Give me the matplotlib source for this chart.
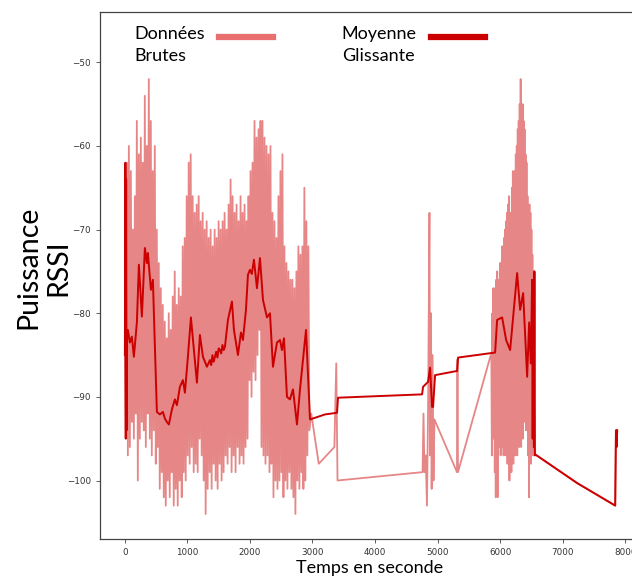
import numpy as np
import matplotlib.pyplot as plt

# --- données ---
# bloc dense 1 : paires (haut, bas) lues sur l'enveloppe
raw1 = [-85, -94, -62, -97, -60, -96, -63, -93, -70, -95, -66, -92, -57, -100, -61, -95,
        -59, -93, -62, -94, -54, -96, -60, -92, -52, -95, -57, -97, -63, -94, -60, -98,
        -70, -96, -74, -101, -77, -99, -79, -102, -81, -103, -83, -100, -80, -102, -82, -99,
        -78, -103, -75, -101, -79, -103, -77, -100, -78, -102, -72, -99, -71, -100, -66, -97,
        -62, -98, -61, -96, -66, -99, -68, -98, -67, -99, -66, -95, -69, -97, -68, -100,
        -70, -104, -69, -101, -71, -99, -70, -101, -72, -98, -70, -100, -71, -101, -69, -98,
        -70, -100, -69, -99, -68, -97, -70, -98, -67, -96, -64, -99, -66, -97, -68, -99,
        -67, -96, -69, -98, -66, -97, -68, -98, -67, -96, -69, -95, -66, -88, -63, -90,
        -62, -87, -57, -88, -59, -85, -58, -82, -57, -96, -57, -97, -59, -98, -60, -97,
        -61, -99, -60, -98, -68, -102, -69, -100, -71, -101, -66, -100, -63, -99, -61, -102,
        -72, -100, -74, -101, -75, -99, -76, -101, -76, -102, -77, -104, -75, -100, -72, -101,
        -73, -99, -72, -101, -65, -100, -69, -97, -72, -94]
raw1_start, raw1_end = 0, 2950

# partie clairsemée
raw_mid_t = [2980, 3100, 3350, 3380, 3400, 4760, 4775, 4790, 4810, 4830, 4850, 4870,
             4880, 4895, 4905, 4920, 4935, 4950, 5310, 5318, 5326, 5850]
raw_mid_v = [-92, -98, -96, -86, -100, -99, -92, -99, -97, -103, -90, -68,
             -97, -80, -101, -85, -100, -92.7, -99, -85.5, -99, -85]

# bloc dense 2
raw2 = [-85, -97, -80, -94, -77, -95, -79, -99, -77, -102, -76, -97, -75, -102, -78, -96,
        -76, -95, -74, -97, -74, -95, -72, -96, -73, -97, -71, -94, -70, -97, -69, -96,
        -68, -98, -67, -95, -66, -100, -69, -97, -68, -99, -65, -96, -63, -98, -64, -95,
        -63, -97, -61, -94, -60, -97, -58, -95, -57, -96, -55, -93, -52, -96, -56, -94,
        -55, -95, -57, -92, -58, -93, -61, -94, -62, -93, -66, -97, -68, -102, -67, -96,
        -68, -98, -70, -95, -73, -97, -75, -96, -75, -97]
raw2_start, raw2_end = 5860, 6555

raw_end_t = [6565, 7230, 7840, 7852, 7862, 7872]
raw_end_v = [-96.9, -100.3, -103, -94, -96, -94]

# moyenne glissante
ma_t = [0, 8, 14, 20, 28, 36, 48, 80, 112, 144, 192, 224, 272, 320, 352, 368, 416, 448,
        480, 512, 560, 608, 640, 672, 704, 752, 800, 832, 880, 928, 960, 1008, 1056,
        1104, 1152, 1200, 1248, 1312, 1360, 1380, 1400, 1420, 1440, 1460, 1480, 1500,
        1520, 1540, 1560, 1580, 1600, 1648, 1712, 1744, 1808, 1856, 1888, 1936, 1968,
        2000, 2030, 2064, 2112, 2160, 2208, 2272, 2320, 2368, 2432, 2480, 2512, 2544,
        2592, 2640, 2688, 2752, 2800, 2896, 2960, 3200, 3392, 3408, 4752, 4768, 4848,
        4880, 4912, 4928, 4960, 5312, 5328, 5920, 5952, 6032, 6096, 6160, 6272, 6320,
        6368, 6432, 6464, 6490, 6512, 6520, 6530, 6540, 6548, 6556, 6565, 7230, 7840,
        7852, 7862, 7872]
ma_v = [-85, -62, -95, -64, -94, -82, -82, -83.5, -82.8, -85.2, -81.1, -74.2, -80.4, -72.2,
        -74, -72.8, -77.2, -76, -84, -91.8, -92.1, -91.8, -92.6, -93, -93.3, -91.5, -90.3,
        -91, -88.8, -88, -89.5, -85.2, -80.5, -84.4, -88.3, -82.6, -85.2, -86.4, -85.6,
        -86.2, -85, -85.8, -85.2, -84.6, -85.3, -84.2, -84.4, -84.8, -83.8, -84.4, -84,
        -80.8, -78.6, -82, -85, -82.3, -83.2, -79.6, -75.4, -74.8, -75.3, -73.6, -77,
        -73.4, -78.4, -80.5, -80, -86.4, -83.5, -83.2, -84.4, -83, -90, -90.3, -89.1,
        -93.3, -89.1, -82, -92.7, -92.1, -91.9, -90.1, -89.7, -88.8, -88.2, -86.5, -91.2,
        -91.2, -87.4, -86.9, -85.3, -84.7, -80.8, -80.5, -83.2, -84.4, -75.2, -79.6,
        -77.6, -87.6, -81.1, -86, -76, -95, -77, -96, -75, -97, -96.9, -100.3, -103,
        -94, -96, -94]

# --- assemblage ---
t_raw = np.concatenate([np.linspace(raw1_start, raw1_end, len(raw1)), raw_mid_t,
                        np.linspace(raw2_start, raw2_end, len(raw2)), raw_end_t])
v_raw = np.concatenate([raw1, raw_mid_v, raw2, raw_end_v])

label_font = 'Lato'

fig = plt.figure(figsize=(6.32, 5.79), dpi=100)
ax = fig.add_axes([0.158, 0.069, 0.855, 0.910])

l1, = ax.plot(t_raw, v_raw, color='#e06868', alpha=0.8, lw=1.3, label='Données\nBrutes')
l2, = ax.plot(ma_t, ma_v, color='#cc0000', lw=1.4, label='Moyenne\nGlissante')

ax.set_xlim(-400, 8240)
ax.set_ylim(-107, -44)
ax.set_xticks(range(0, 8001, 1000))
ax.set_yticks(range(-100, -49, 10))
ax.tick_params(labelsize=6.3, labelcolor='#333333', length=3, width=0.6, color='#444444')
for s in ax.spines.values():
    s.set_color('#444444')
    s.set_linewidth(0.9)

ax.set_xlabel('Temps en seconde', fontsize=13, family=label_font)
ax.xaxis.set_label_coords(0.5, -0.04)
ax.set_ylabel('Puissance\nRSSI', fontsize=20.5, family=label_font, va='center')
ax.yaxis.set_label_coords(-0.105, 0.515)

leg = fig.legend(handles=[l1, l2], loc='upper left', bbox_to_anchor=(0.212, 0.955),
                 ncol=2, markerfirst=False, frameon=False, borderpad=0, borderaxespad=0,
                 handlelength=3.0, handletextpad=0.8, columnspacing=3.8,
                 prop={'family': label_font, 'size': 13})
for t in leg.get_texts():
    t.set_linespacing(1.45)
for h in leg.legend_handles:
    h.set_linewidth(4.5)
    h.set_alpha(1)
    h.set_ydata(np.asarray(h.get_ydata()) + 6)
leg.legend_handles[0].set_color('#ea7070')

fig.savefig('out.png', dpi=100)
